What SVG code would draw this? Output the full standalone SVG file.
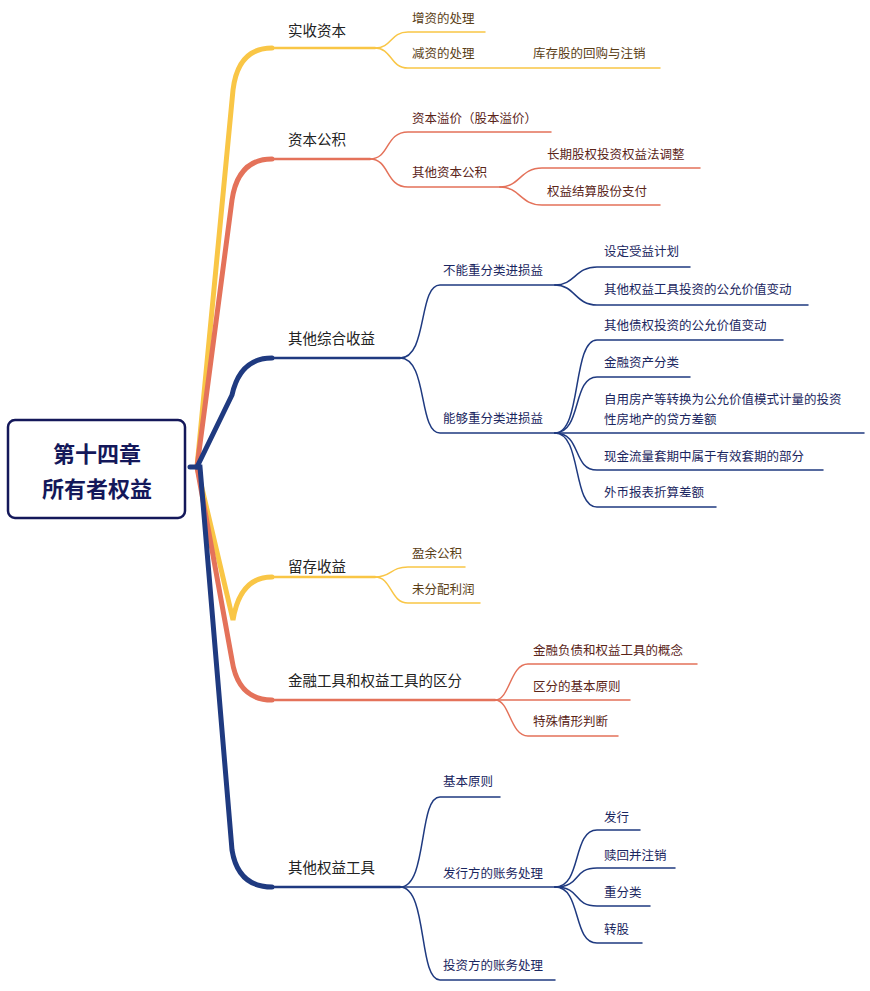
<svg xmlns="http://www.w3.org/2000/svg" width="870" height="991" viewBox="0 0 870 991">
<style>
text{font-family:"Noto Sans CJK SC","Noto Sans",sans-serif;}
.l1{font-size:14.5px;fill:#222;}
.l2{font-size:12.5px;}
.y{stroke:#F9C646;fill:none;}
.o{stroke:#E4725A;fill:none;}
.n{stroke:#1F3A80;fill:none;}
.ty{fill:#5a3e16;}.to{fill:#5a2418;}.tn{fill:#1a2660;}
.s{stroke-width:1.5;}
</style>
<rect width="870" height="991" fill="#fff"/>
<g id="connectors" stroke-linecap="round">
<path class="y" stroke-width="5" d="M197,467 L233,90 Q238,48 272,48"/>
<path class="y" stroke-width="5" d="M197,467 L233,620 Q240,577 272,577"/>
<path class="o" stroke-width="5" d="M197,467 L232,200 Q238,159 272,159"/>
<path class="o" stroke-width="5" d="M197,467 L232,660 Q238,700 272,700"/>
<path class="n" stroke-width="5" d="M197,467 L232,395 Q240,358 272,358"/>
<path class="n" stroke-width="5" d="M190,467 L200,467 L232,850 Q238,887 272,887"/>
<path class="y" stroke-width="2.5" d="M270,48 L375,48"/>
<path class="y" stroke-width="2.5" d="M270,577 L375,577"/>
<path class="o" stroke-width="2.5" d="M270,159 L370,159"/>
<path class="o" stroke-width="2.5" d="M270,700 L495,700"/>
<path class="n" stroke-width="2.5" d="M270,358 L400,358"/>
<path class="n" stroke-width="2.5" d="M270,887 L400,887"/>
<g class="s">
<path class="y" d="M375,48 C392,48 390,32 408,32 L485,32"/>
<path class="y" d="M375,48 C392,48 390,68 408,68 L660,68"/>
<path class="y" d="M375,577 C392,577 390,567 408,567 L465,567"/>
<path class="y" d="M375,577 C392,577 390,603 408,603 L480,603"/>
<path class="o" d="M370,159 C390,159 385,132 408,132 L551,132"/>
<path class="o" d="M370,159 C390,159 385,187 408,187 L500,187"/>
<path class="o" d="M500,187 C520,187 520,168 542,168 L700,168"/>
<path class="o" d="M500,187 C520,187 520,205 542,205 L660,205"/>
<path class="o" d="M495,700 C510,700 510,664 528,664 L697,664"/>
<path class="o" d="M495,700 L630,700"/>
<path class="o" d="M495,700 C510,700 510,736 528,736 L618,736"/>
<path class="n" d="M400,358 C428,358 418,285 440,285 L555,285"/>
<path class="n" d="M400,358 C428,358 418,433 440,433 L555,433"/>
<path class="n" d="M555,285 C575,285 575,267 597,267 L690,267"/>
<path class="n" d="M555,285 C575,285 575,305 597,305 L808,305"/>
<path class="n" d="M555,433 C582,433 572,340 597,340 L783,340"/>
<path class="n" d="M555,433 C582,433 572,377 597,377 L690,377"/>
<path class="n" d="M555,433 L864,433"/>
<path class="n" d="M555,433 C582,433 572,470 597,470 L823,470"/>
<path class="n" d="M555,433 C582,433 572,507 597,507 L716,507"/>
<path class="n" d="M400,887 C428,887 418,797 440,797 L500,797"/>
<path class="n" d="M400,887 L555,887"/>
<path class="n" d="M400,887 C428,887 418,980 440,980 L555,980"/>
<path class="n" d="M555,887 C582,887 572,830 597,830 L640,830"/>
<path class="n" d="M555,887 C582,887 572,868 597,868 L675,868"/>
<path class="n" d="M555,887 C582,887 572,906 597,906 L650,906"/>
<path class="n" d="M555,887 C582,887 572,943 597,943 L642,943"/>
</g>
</g>
<g id="root"><rect x="8" y="420" width="177" height="98" rx="7" fill="#fff" stroke="#14185a" stroke-width="2.5"/>
<text x="97" y="462" text-anchor="middle" font-size="22" font-weight="bold" fill="#14185a">第十四章</text>
<text x="97" y="497" text-anchor="middle" font-size="22" font-weight="bold" fill="#14185a">所有者权益</text></g>
<g id="n1"><text class="l1" x="288" y="36">实收资本</text></g>
<g id="n1a"><text class="l2 ty" x="412" y="23">增资的处理</text></g>
<g id="n1b"><text class="l2 ty" x="412" y="58">减资的处理</text></g>
<g id="n1b1"><text class="l2 ty" x="533" y="58">库存股的回购与注销</text></g>
<g id="n2"><text class="l1" x="288" y="145">资本公积</text></g>
<g id="n2a"><text class="l2 to" x="412" y="123">资本溢价（股本溢价）</text></g>
<g id="n2b"><text class="l2 to" x="412" y="177">其他资本公积</text></g>
<g id="n2b1"><text class="l2 to" x="547" y="159">长期股权投资权益法调整</text></g>
<g id="n2b2"><text class="l2 to" x="547" y="196">权益结算股份支付</text></g>
<g id="n3"><text class="l1" x="288" y="344">其他综合收益</text></g>
<g id="n3a"><text class="l2 tn" x="443" y="275">不能重分类进损益</text></g>
<g id="n3a1"><text class="l2 tn" x="604" y="256">设定受益计划</text></g>
<g id="n3a2"><text class="l2 tn" x="604" y="294">其他权益工具投资的公允价值变动</text></g>
<g id="n3b"><text class="l2 tn" x="443" y="423">能够重分类进损益</text></g>
<g id="n3b1"><text class="l2 tn" x="604" y="330">其他债权投资的公允价值变动</text></g>
<g id="n3b2"><text class="l2 tn" x="604" y="367">金融资产分类</text></g>
<g id="n3b3"><text class="l2 tn" x="604" y="404">自用房产等转换为公允价值模式计量的投资</text><text class="l2 tn" x="604" y="424">性房地产的贷方差额</text></g>
<g id="n3b4"><text class="l2 tn" x="604" y="461">现金流量套期中属于有效套期的部分</text></g>
<g id="n3b5"><text class="l2 tn" x="604" y="497">外币报表折算差额</text></g>
<g id="n4"><text class="l1" x="288" y="572">留存收益</text></g>
<g id="n4a"><text class="l2 ty" x="412" y="558">盈余公积</text></g>
<g id="n4b"><text class="l2 ty" x="412" y="594">未分配利润</text></g>
<g id="n5"><text class="l1" x="288" y="686">金融工具和权益工具的区分</text></g>
<g id="n5a"><text class="l2 to" x="533" y="655">金融负债和权益工具的概念</text></g>
<g id="n5b"><text class="l2 to" x="533" y="691">区分的基本原则</text></g>
<g id="n5c"><text class="l2 to" x="533" y="726">特殊情形判断</text></g>
<g id="n6"><text class="l1" x="288" y="873">其他权益工具</text></g>
<g id="n6a"><text class="l2 tn" x="443" y="786">基本原则</text></g>
<g id="n6b"><text class="l2 tn" x="443" y="878">发行方的账务处理</text></g>
<g id="n6b1"><text class="l2 tn" x="604" y="822">发行</text></g>
<g id="n6b2"><text class="l2 tn" x="604" y="860">赎回并注销</text></g>
<g id="n6b3"><text class="l2 tn" x="604" y="897">重分类</text></g>
<g id="n6b4"><text class="l2 tn" x="604" y="934">转股</text></g>
<g id="n6c"><text class="l2 tn" x="443" y="970">投资方的账务处理</text></g>
</svg>
